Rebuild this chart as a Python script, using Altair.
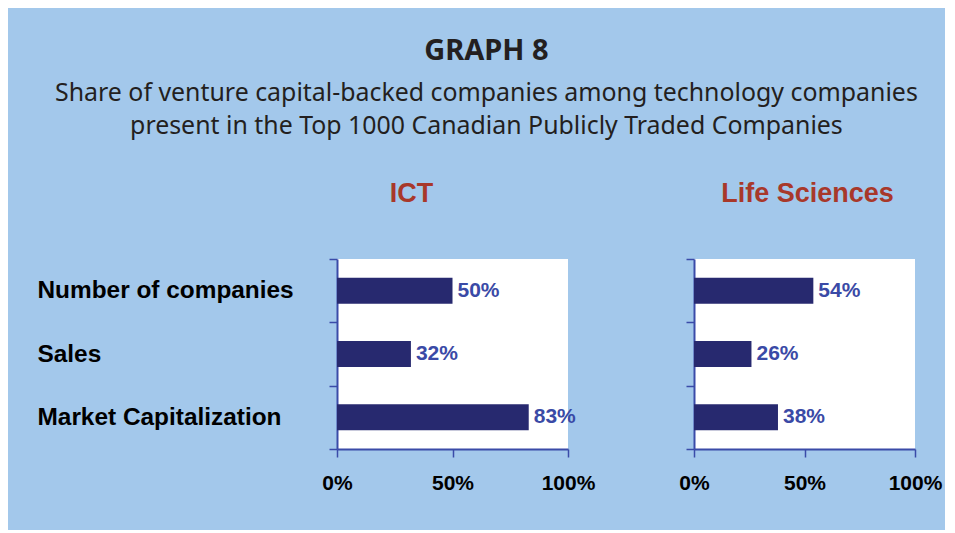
import altair as alt
import pandas as pd

categories = ["Number of companies", "Sales", "Market Capitalization"]
ict_values = [50, 32, 83]
ls_values = [54, 26, 38]
panel_titles = ["ICT", "Life Sciences"]
x_ticks = [0, 50, 100]

main_title = "GRAPH 8"
subtitle_lines = [
    "Share of venture capital-backed companies among technology companies",
    "present in the Top 1000 Canadian Publicly Traded Companies",
]

BG = "#A3C8EB"
BAR = "#27296F"
AXIS = "#3A4BA8"
VAL = "#3A4AA6"
RED = "#A8382A"
FONT = "Liberation Sans"


def panel(values, title, width, show_labels, dx, offset):
    df = pd.DataFrame({"cat": categories, "value": values})
    base = alt.Chart(df).transform_calculate(label="datum.value + '%'")
    yenc = alt.Y(
        "cat:N",
        sort=categories,
        scale=alt.Scale(paddingInner=0, paddingOuter=0),
        axis=alt.Axis(
            title=None,
            tickBand="extent",
            labels=show_labels,
            labelAlign="left",
            labelPadding=292,
            labelLimit=400,
            labelFont=FONT,
            labelFontSize=24.4,
            labelFontWeight="bold",
            labelColor="black",
            domainColor=AXIS,
            domainWidth=2,
            tickColor=AXIS,
            tickWidth=1.5,
            tickSize=8,
        ),
    )
    bars = base.mark_bar(size=26, color=BAR).encode(
        y=yenc,
        x=alt.X(
            "value:Q",
            scale=alt.Scale(domain=[0, 100]),
            axis=alt.Axis(
                title=None,
                values=x_ticks,
                labelExpr="datum.value + '%'",
                labelFont=FONT,
                labelFontSize=21,
                labelFontWeight="bold",
                labelColor="black",
                labelPadding=15,
                labelFlush=False,
                domainColor=AXIS,
                domainWidth=2,
                tickColor=AXIS,
                tickWidth=1.5,
                tickSize=8,
                grid=False,
            ),
        ),
    )
    text = base.mark_text(
        align="left", baseline="middle", dx=5, font=FONT, fontSize=21,
        fontWeight="bold", color=VAL,
    ).encode(
        y=alt.Y("cat:N", sort=categories),
        x=alt.X("value:Q"),
        text="label:N",
    )
    return alt.layer(bars, text).properties(
        width=width,
        height=190,
        title=alt.TitleParams(
            title, font=FONT, fontSize=27, fontWeight="bold", color=RED,
            anchor="middle", dx=dx, offset=offset,
        ),
    )


ict = panel(ict_values, panel_titles[0], 231, True, -41, 38)
ls = panel(ls_values, panel_titles[1], 221, False, 3, 50)

chart = (
    alt.hconcat(ict, ls, spacing=83)
    .properties(
        title=alt.TitleParams(
            main_title,
            subtitle=subtitle_lines,
            font="Noto Sans",
            fontSize=29,
            fontWeight="bold",
            color="#231F20",
            subtitleFont="Noto Sans",
            subtitleFontSize=24.9,
            subtitleColor="#231F20",
            subtitleLineHeight=33,
            subtitlePadding=14.6,
            anchor="middle",
            dx=-3,
            offset=41.5,
        ),
        background=BG,
        padding={"left": 29, "top": 29, "right": 3, "bottom": 37},
    )
    .configure_view(fill="white", strokeWidth=0)
)

chart.save("out.html", embed_options={"renderer": "svg", "actions": False})
